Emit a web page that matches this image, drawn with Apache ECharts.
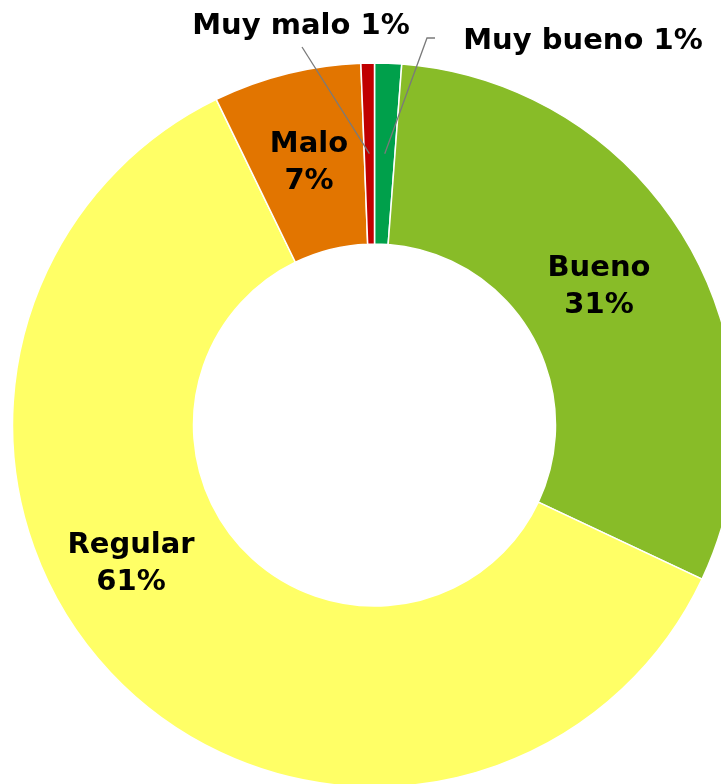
<!DOCTYPE html>
<html>
<head>
    <meta charset="UTF-8">
    <title>Valoración</title>
    <script src="https://cdn.jsdelivr.net/npm/echarts@6/dist/echarts.min.js"></script>
    <style>
        html, body { margin: 0; padding: 0; background: #fff; }
        #chart { width: 721px; height: 784px; }
    </style>
</head>
<body>
<div id="chart"></div>
<script>
    // datos (porcentajes)
    const categories = ['Muy bueno', 'Bueno', 'Regular', 'Malo', 'Muy malo'];
    const values = [1.2, 30.8, 60.8, 6.6, 0.6];
    const colors = ['#00A04B', '#88BC28', '#FFFF66', '#E27500', '#C00000'];

    // geometría del anillo
    const center = [374.5, 425];
    const radius = [181, 362];

    // posición de cada etiqueta (centro del texto)
    const labelPos = [[583, 41], [599, 287], [131, 564], [309, 163], [301, 26]];
    // final de la línea guía para las etiquetas exteriores
    const leaderEnd = [[[427, 38], [435, 38]], null, null, null, [[302, 47]]];

    const total = values.reduce((a, b) => a + b, 0);

    function midAngle(i) {
        let before = 0;
        for (let k = 0; k < i; k++) before += values[k];
        return (before + values[i] / 2) / total * 2 * Math.PI;
    }

    // líneas guía: desde la mitad del anillo hasta la etiqueta
    const leaders = [];
    values.forEach((v, i) => {
        if (!leaderEnd[i]) return;
        const a = midAngle(i);
        const r = (radius[0] + radius[1]) / 2;
        const start = [center[0] + r * Math.sin(a), center[1] - r * Math.cos(a)];
        leaders.push({
            type: 'polyline',
            z: 10,
            shape: { points: [start].concat(leaderEnd[i]) },
            style: { stroke: '#7A7A7A', lineWidth: 1.3, fill: null }
        });
    });

    const chart = echarts.init(document.getElementById('chart'));

    const option = {
        animation: false,
        graphic: leaders,
        series: [
            {
                type: 'pie',
                center: center,
                radius: radius,
                startAngle: 90,
                clockwise: true,
                avoidLabelOverlap: false,
                itemStyle: {
                    borderColor: '#fff',
                    borderWidth: 1.5
                },
                label: {
                    show: true,
                    position: 'outside',
                    overflow: 'none',
                    color: '#000',
                    fontFamily: 'DejaVu Sans',
                    fontWeight: 'bold',
                    fontSize: 29,
                    lineHeight: 37,
                    align: 'center',
                    formatter: function (p) {
                        const pct = Math.round(p.value / total * 100);
                        return leaderEnd[p.dataIndex]
                            ? p.name + ' ' + pct + '%'
                            : p.name + '\n' + pct + '%';
                    }
                },
                labelLine: { show: false },
                labelLayout: function (params) {
                    const i = params.dataIndex;
                    return {
                        x: labelPos[i][0],
                        y: labelPos[i][1],
                        align: 'center',
                        verticalAlign: 'middle'
                    };
                },
                data: categories.map((name, i) => ({
                    name: name,
                    value: values[i],
                    itemStyle: { color: colors[i] }
                }))
            }
        ]
    };

    chart.setOption(option);
</script>
</body>
</html>
